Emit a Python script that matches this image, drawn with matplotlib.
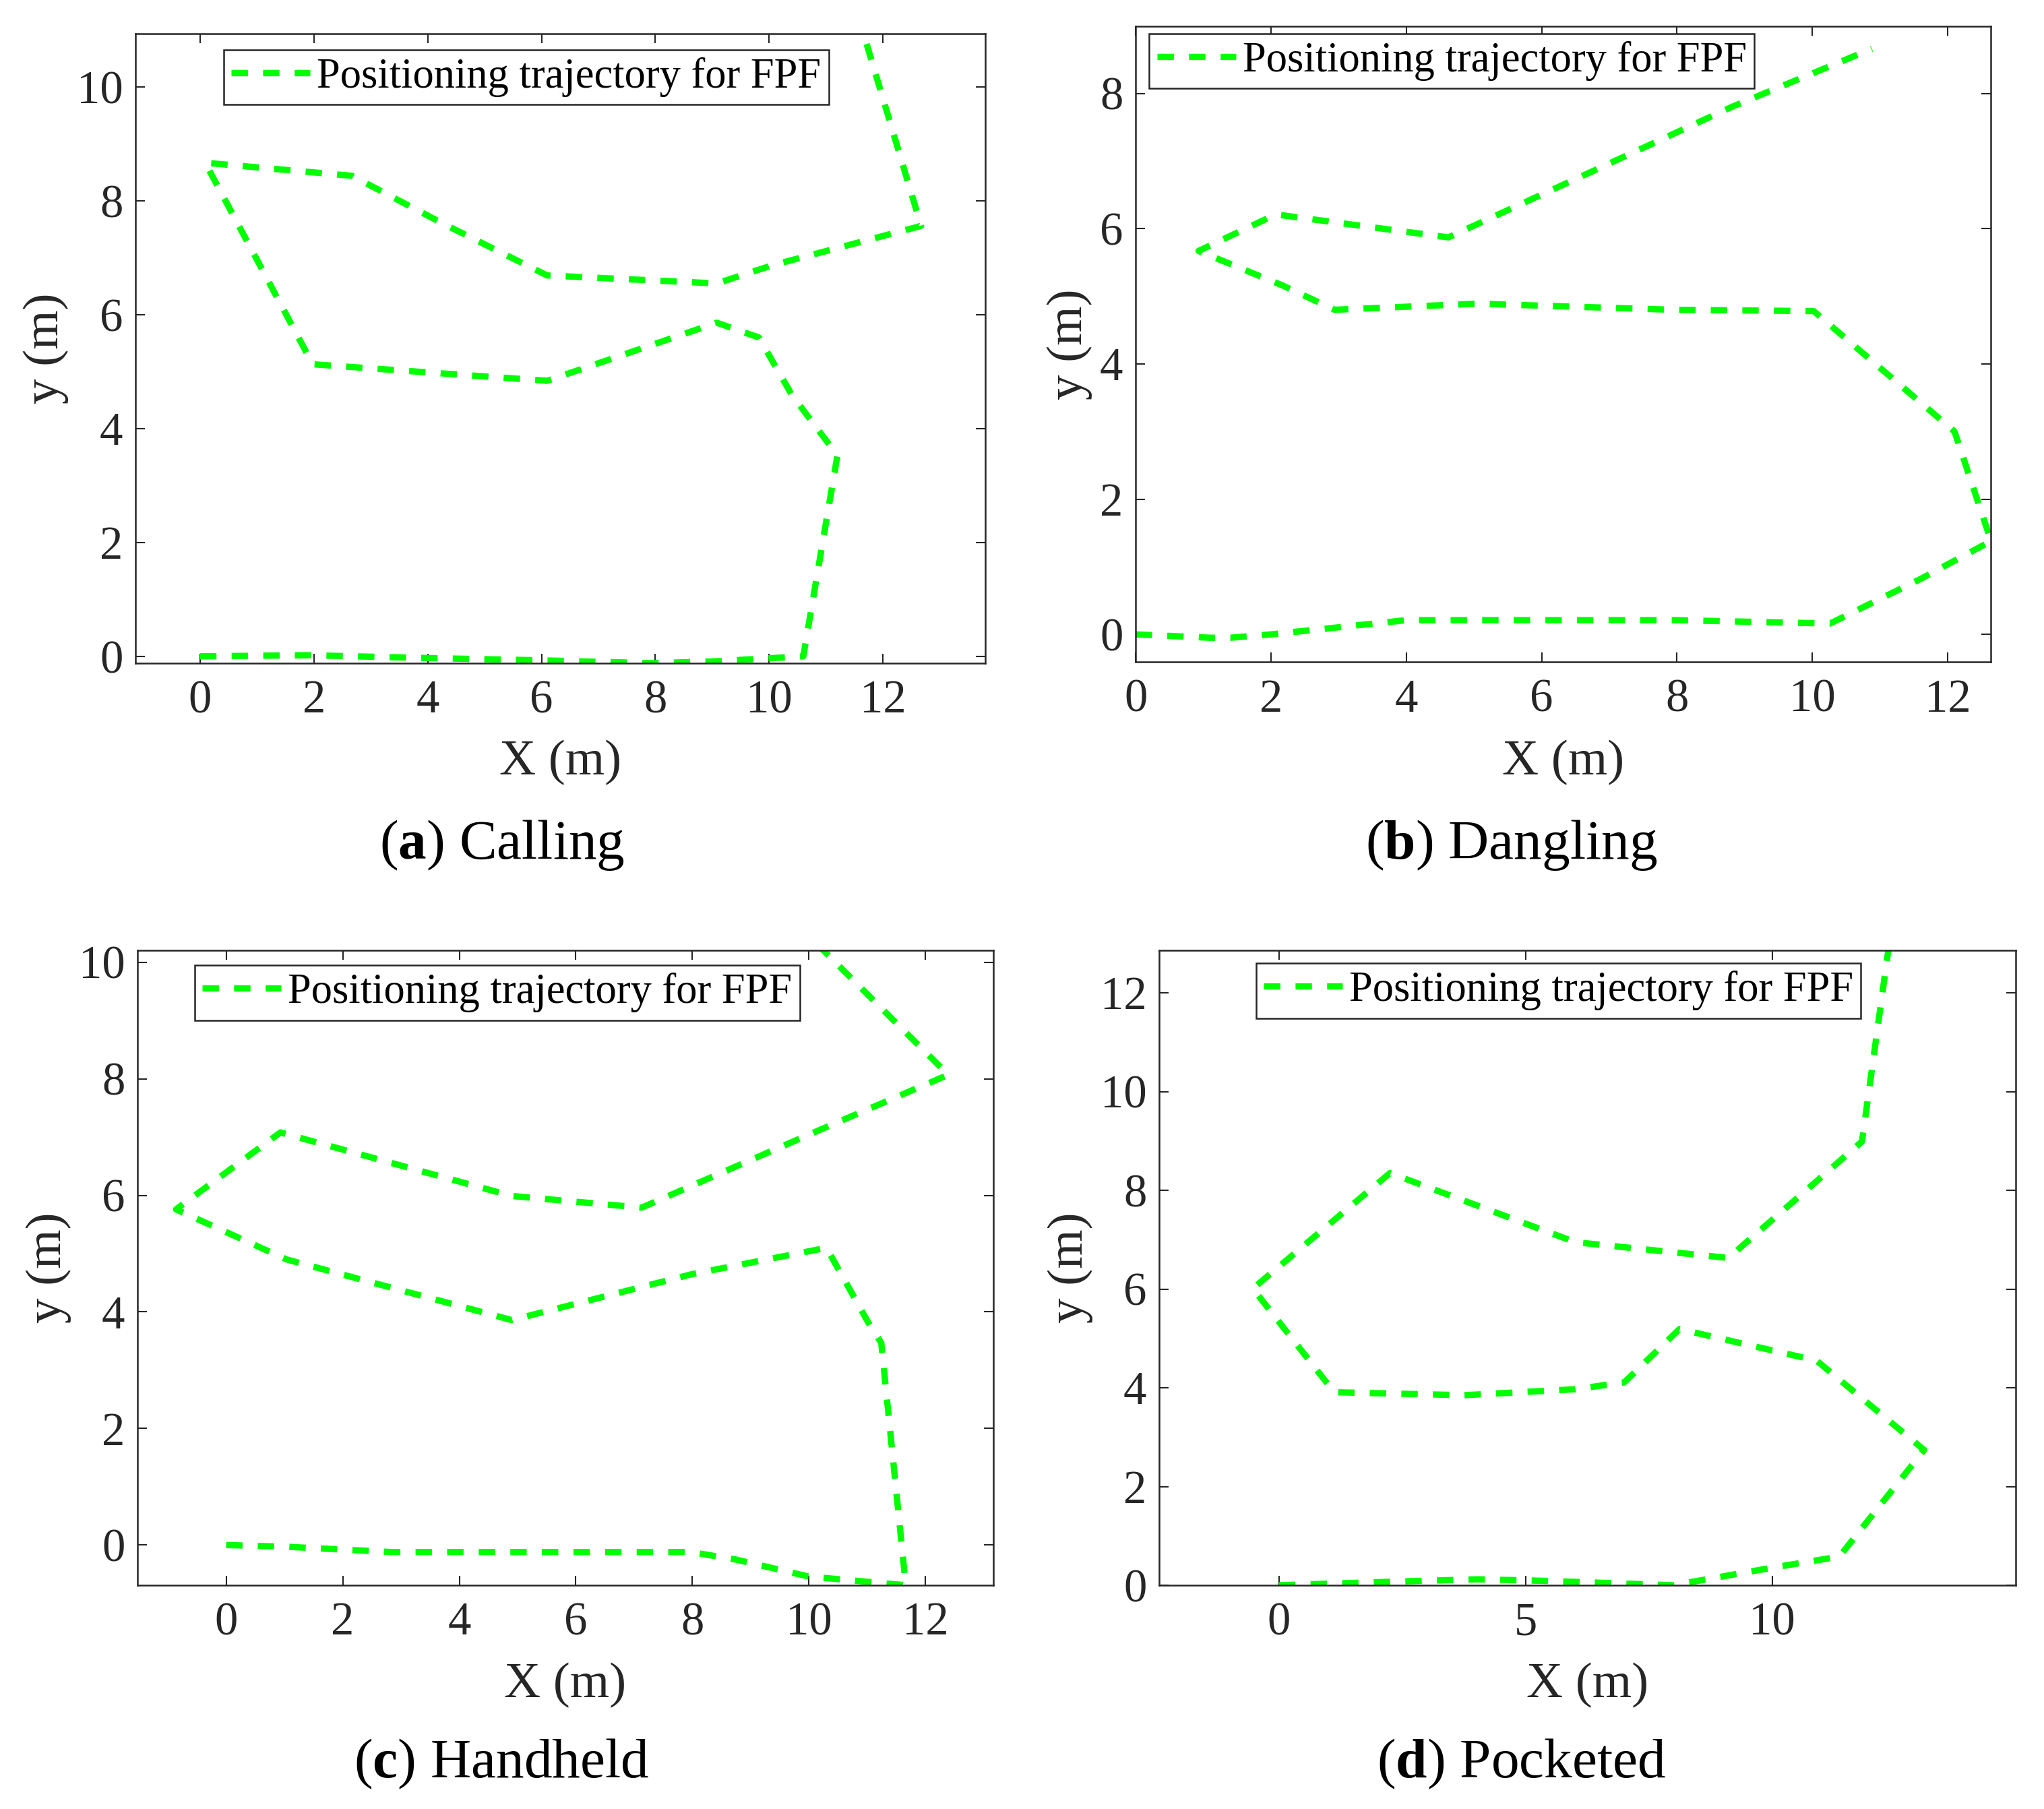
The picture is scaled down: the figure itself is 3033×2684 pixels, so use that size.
import matplotlib.pyplot as plt

# fonts: Times-like serif for everything, bold letter in captions via mathtext
plt.rcParams['font.family'] = ['Liberation Serif', 'DejaVu Serif']
plt.rcParams['mathtext.fontset'] = 'custom'
plt.rcParams['mathtext.rm'] = 'Liberation Serif'
plt.rcParams['mathtext.bf'] = 'Liberation Serif:bold'

# (a) Calling
calling_x = [0, 1.9, 4.0, 6.0, 7.95, 9.0, 10.6, 11.2, 10.4, 9.82, 9.08, 6.1, 1.98,
             0.09, 2.67, 4.27, 6.1, 9.08, 10.06, 12.67, 11.58]
calling_y = [0, 0.02, -0.03, -0.07, -0.12, -0.09, 0.0, 3.53, 4.59, 5.6, 5.86, 4.84, 5.13,
             8.67, 8.44, 7.6, 6.69, 6.55, 6.87, 7.56, 11.2]

# (b) Dangling
dangling_x = [0, 1.1, 1.4, 2.0, 4.0, 8.0, 10.26, 11.6, 12.64, 12.1, 10.02, 7.94, 5.05,
              2.94, 2.17, 0.93, 2.07, 4.62, 6.69, 8.81, 10.88]
dangling_y = [0, -0.05, -0.05, 0.0, 0.21, 0.21, 0.16, 0.82, 1.38, 3.0, 4.78, 4.8, 4.89,
              4.8, 5.16, 5.67, 6.21, 5.87, 6.82, 7.8, 8.66]

# (c) Handheld
handheld_x = [0, 1.04, 2.83, 5.07, 7.97, 8.75, 9.99, 11.66, 11.24, 11.05, 10.3, 8.0, 4.9,
              1.04, -0.86, 0.93, 4.9, 7.13, 10.2, 12.39, 10.0]
handheld_y = [0, -0.03, -0.12, -0.12, -0.12, -0.25, -0.54, -0.69, 3.47, 3.76, 5.1, 4.65, 3.86,
              4.9, 5.76, 7.08, 5.99, 5.79, 7.13, 8.07, 10.45]

# (d) Pocketed
pocketed_x = [0, 2.58, 4.03, 5.35, 7.99, 9.97, 11.36, 13.08, 10.9, 8.12, 7.0, 6.0, 3.76,
              1.12, -0.53, 2.25, 6.01, 9.11, 10.63, 11.82, 12.35, 12.4]
pocketed_y = [0, 0.08, 0.12, 0.09, 0.0, 0.35, 0.58, 2.74, 4.55, 5.19, 4.11, 3.97, 3.85,
              3.91, 6.01, 8.35, 6.95, 6.63, 7.95, 8.99, 12.84, 13.2]

legend_label = 'Positioning trajectory for FPF'
captions = [r'($\mathbf{a}$) Calling', r'($\mathbf{b}$) Dangling',
            r'($\mathbf{c}$) Handheld', r'($\mathbf{d}$) Pocketed']

dark = '#262626'

fig = plt.figure(figsize=(3033 / 300, 2684 / 300), dpi=300)

# axes rectangles [left, bottom, width, height] in figure fraction
rects = [[0.0663, 0.6334, 0.4158, 0.3481],
         [0.5556, 0.6340, 0.4185, 0.3514],
         [0.0673, 0.1237, 0.4186, 0.3508],
         [0.5671, 0.1237, 0.4189, 0.3509]]

panels = [
    (calling_x, calling_y, (-1.134, 13.8), (-0.12, 10.94), range(0, 13, 2), range(0, 11, 2),
     (0.104, 0.974), -0.105),
    (dangling_x, dangling_y, (0, 12.64), (-0.41, 8.99), range(0, 13, 2), range(0, 9, 2),
     (0.016, 0.989), -0.077),
    (handheld_x, handheld_y, (-1.52, 13.16), (-0.69, 10.2), range(0, 13, 2), range(0, 11, 2),
     (0.067, 0.977), -0.104),
    (pocketed_x, pocketed_y, (-2.43, 14.93), (0, 12.86), [0, 5, 10], range(0, 13, 2),
     (0.113, 0.980), -0.104),
]

for rect, (x, y, xlim, ylim, xt, yt, leg_xy, ylab_x) in zip(rects, panels):
    ax = fig.add_axes(rect)
    ax.plot(x, y, color='#00ff00', lw=2.25, linestyle=(0, (2.6, 2.4)), label=legend_label)
    ax.set_xlim(xlim)
    ax.set_ylim(ylim)
    ax.set_xticks(list(xt))
    ax.set_yticks(list(yt))
    ax.tick_params(direction='in', length=3.3, width=0.5, top=True, right=True,
                   labelsize=16.5, colors=dark)
    ax.tick_params(axis='x', pad=6)
    ax.tick_params(axis='y', pad=4.5)
    for sp in ax.spines.values():
        sp.set_linewidth(0.6)
        sp.set_color(dark)
    ax.set_xlabel('X (m)', fontsize=18, color=dark, va='center')
    ax.xaxis.set_label_coords(0.5, -0.158)
    ax.set_ylabel('y (m)', fontsize=18, color=dark, va='center')
    ax.yaxis.set_label_coords(ylab_x, 0.5)
    leg = ax.legend(loc='upper left', bbox_to_anchor=leg_xy, borderaxespad=0, fontsize=15,
                    fancybox=False, framealpha=1, edgecolor=dark, handlelength=1.87,
                    handletextpad=0.16, borderpad=0.18)
    leg.get_frame().set_linewidth(0.6)

# sub-figure captions
fig.text(0.2455, 0.5328, captions[0], fontsize=20, ha='center', va='center')
fig.text(0.7396, 0.5328, captions[1], fontsize=20, ha='center', va='center')
fig.text(0.2455, 0.025, captions[2], fontsize=20, ha='center', va='center')
fig.text(0.7443, 0.025, captions[3], fontsize=20, ha='center', va='center')

fig.savefig('out.png', dpi=300)
